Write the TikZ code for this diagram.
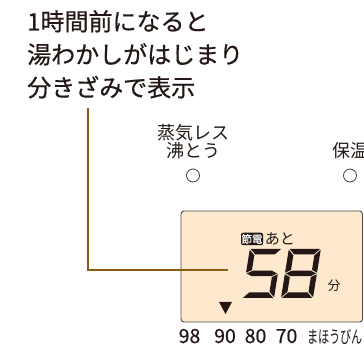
\documentclass[tikz,border=0pt]{standalone}
\usepackage{fontspec}
\setmainfont{Noto Sans CJK JP}
\newfontfamily\heavyjp{Noto Sans CJK JP}[FakeBold=0.6]
\usetikzlibrary{positioning}
\definecolor{captioncolor}{RGB}{35, 24, 21}
\definecolor{leadcolor}{RGB}{139, 92, 18}
\definecolor{lampcolor}{RGB}{60, 60, 60}
\definecolor{lcdfill}{RGB}{254, 233, 206}
\definecolor{lcdframe}{RGB}{75, 75, 75}
% seven segment digit, unslanted, origin bottom left
\newcommand{\segw}{32}
\newcommand{\segh}{49}
\newcommand{\segm}{24.5}
\newcommand{\segt}{5.5}
\newcommand{\segg}{0.8}
\newcommand{\segA}{(\segg,\segh) -- (\segw-\segg,\segh) -- (\segw-\segt-\segg,\segh-\segt) -- (\segt+\segg,\segh-\segt) -- cycle}
\newcommand{\segB}{(\segw,\segh-\segg) -- (\segw-\segt,\segh-\segt-\segg) -- (\segw-\segt,\segm+\segt/2+\segg) -- (\segw,\segm+\segg) -- cycle}
\newcommand{\segC}{(\segw,\segm-\segg) -- (\segw-\segt,\segm-\segt/2-\segg) -- (\segw-\segt,\segt+\segg) -- (\segw,\segg) -- cycle}
\newcommand{\segD}{(\segg,0) -- (\segw-\segg,0) -- (\segw-\segt-\segg,\segt) -- (\segt+\segg,\segt) -- cycle}
\newcommand{\segE}{(0,\segm-\segg) -- (\segt,\segm-\segt/2-\segg) -- (\segt,\segt+\segg) -- (0,\segg) -- cycle}
\newcommand{\segF}{(0,\segh-\segg) -- (\segt,\segh-\segt-\segg) -- (\segt,\segm+\segt/2+\segg) -- (0,\segm+\segg) -- cycle}
\newcommand{\segG}{(\segg,\segm) -- (\segt+\segg,\segm+\segt/2) -- (\segw-\segt-\segg,\segm+\segt/2) -- (\segw-\segg,\segm) -- (\segw-\segt-\segg,\segm-\segt/2) -- (\segt+\segg,\segm-\segt/2) -- cycle}
\tikzset{
captiontext/.style={
  anchor=north west,
  inner sep=0pt,
  align=left,
  font=\heavyjp\fontsize{24}{33}\selectfont,
  text=captioncolor
},
lamplabel/.style={
  inner sep=0pt,
  align=center,
  font=\fontsize{18}{18}\selectfont,
  text=captioncolor
},
lamp/.style={
  circle,
  draw=lampcolor,
  line width=0.8pt,
  minimum size=13pt,
  inner sep=0pt
},
lcdpanel/.style={
  draw=lcdframe,
  fill=lcdfill,
  line width=0.9pt,
  rounded corners=3pt,
  inner sep=0pt
},
badge/.style={
  fill=captioncolor,
  text=white,
  rounded corners=2pt,
  inner sep=0pt,
  minimum width=22pt,
  minimum height=12.5pt,
  font=\heavyjp\fontsize{10.5}{10.5}\selectfont
},
lcdtext/.style={
  inner sep=0pt,
  text=captioncolor
},
scalelabel/.style={
  anchor=base,
  inner sep=0pt,
  font=\heavyjp\fontsize{19.5}{19.5}\selectfont,
  text=captioncolor
},
leadline/.style={
  draw=leadcolor,
  line width=2.4pt
},
lcddigit/.style={
  fill=captioncolor
}
}
\begin{document}
\begin{tikzpicture}[x=1pt,y=1pt]
  \useasboundingbox (0,0) rectangle (364,348);

  % caption
  \node[captiontext] (caption) at (27,338) {1時間前になると\\湯わかしがはじまり\\分きざみで表示};

  % lamps
  \node[lamplabel, anchor=south] (steamlabel) at (193,189) {蒸気レス\\沸とう};
  \node[lamp] (steamlamp) at (193,172.5) {};
  \node[lamplabel, anchor=south] (warmlabel) at (350,189) {保温};
  \node[lamp] (warmlamp) at (350,172.5) {};

  % display
  \node[lcdpanel, minimum width=181.5pt, minimum height=111pt] (lcd) at (271.75,81.5) {};
  \node[badge] (badge) at (252,109) {節電};
  \node[lcdtext, font=\fontsize{15}{15}\selectfont, right=1.5pt of badge] (remain) {あと};
  \node[lcdtext, font=\fontsize{13}{13}\selectfont] (minute) at (334,62.5) {分};
  \begin{scope}[shift={(242,50)}, xslant=0.16]
    \fill[lcddigit] \segA \segF \segG \segC \segD;
  \end{scope}
  \begin{scope}[shift={(281,50)}, xslant=0.16]
    \fill[lcddigit] \segA \segB \segC \segD \segE \segF \segG;
  \end{scope}
  \fill[captioncolor] (219,46) -- (232,46) -- (225.5,34) -- cycle;

  % scale
  \foreach \v/\x in {98/189.5, 90/225, 80/255.5, 70/286.5}
    \node[scalelabel] (scale\v) at (\x,5) {\v};
  \node[scalelabel, font=\fontsize{17.5}{17.5}\selectfont] (scalepot) at (335,5) {\scalebox{0.64}[1]{まほうびん}};

  % lead line
  \coordinate (leadstart) at ([xshift=61pt, yshift=-9pt]caption.south west);
  \coordinate (leadend) at (228,78);
  \draw[leadline] (leadstart) |- (leadend);
\end{tikzpicture}
\end{document}
